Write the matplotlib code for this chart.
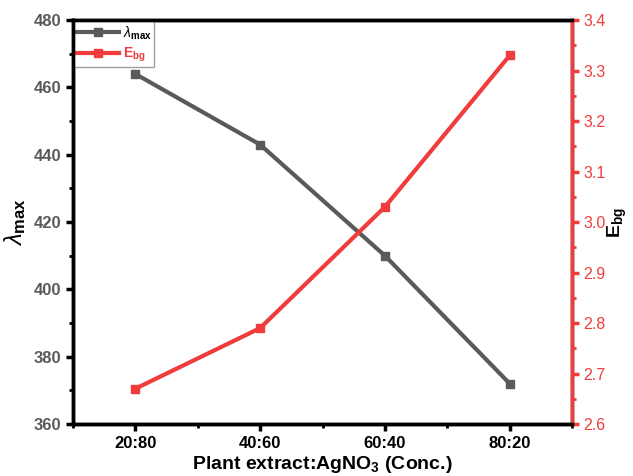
import numpy as np
import matplotlib
matplotlib.use('Agg')
from matplotlib import pyplot as plt
from matplotlib.ticker import MultipleLocator, FormatStrFormatter

plt.rcParams['font.family'] = ['Liberation Sans', 'DejaVu Sans']
plt.rcParams['mathtext.fontset'] = 'custom'
plt.rcParams['mathtext.rm'] = 'Liberation Sans'
plt.rcParams['mathtext.bf'] = 'Liberation Sans:bold'
plt.rcParams['mathtext.it'] = 'Liberation Sans:italic'

# data
ratios = ['20:80', '40:60', '60:40', '80:20']
lambda_max = [464, 443, 410, 372]
e_bg = [2.67, 2.79, 3.03, 3.33]

gray = '#5a5a5a'
red = '#f03c3c'

fig = plt.figure(figsize=(6.33, 4.76), dpi=100)
ax = fig.add_axes([0.115, 0.109, 0.789, 0.849])
ax2 = ax.twinx()

x = np.arange(1, len(ratios) + 1)
l1, = ax.plot(x, lambda_max, color=gray, lw=3, marker='s', ms=6)
l2, = ax2.plot(x, e_bg, color=red, lw=3, marker='s', ms=6)

ax.set_xlim(0.5, 4.5)
ax.set_ylim(360, 480)
ax2.set_ylim(2.6, 3.4)
ax.set_xticks(x)
ax.set_xticklabels(ratios, fontweight='bold', fontsize=12)
ax.xaxis.set_minor_locator(MultipleLocator(0.5))
ax.yaxis.set_major_locator(MultipleLocator(20))
ax.yaxis.set_minor_locator(MultipleLocator(10))
ax2.yaxis.set_major_locator(MultipleLocator(0.1))
ax2.yaxis.set_minor_locator(MultipleLocator(0.05))
ax2.yaxis.set_major_formatter(FormatStrFormatter('%.1f'))

for a in (ax, ax2):
    for s in a.spines.values():
        s.set_linewidth(2.5)
ax2.spines['right'].set_color(red)

ax.tick_params(axis='both', which='major', direction='out', length=5, width=2.5)
ax.tick_params(axis='both', which='minor', direction='out', length=3, width=2)
ax.tick_params(axis='y', labelcolor=gray, labelsize=12)
for t in ax.get_yticklabels():
    t.set_fontweight('bold')
ax2.tick_params(axis='y', which='major', direction='out', length=5, width=2.5, color=red,
                labelcolor=red, labelsize=11.5, pad=3)
ax2.tick_params(axis='y', which='minor', direction='out', length=3, width=2, color=red)

ax.set_xlabel(r'Plant extract:AgNO$_\mathbf{3}$ (Conc.)', fontweight='bold', fontsize=14, labelpad=2)
ax.set_ylabel(r'$\lambda_{\mathbf{max}}$', fontsize=17, labelpad=4)
ax2.set_ylabel(r'$\mathbf{E_{bg}}$', fontsize=14, labelpad=0)

leg = ax.legend([l1, l2], [r'$\lambda_{\mathbf{max}}$', r'$\mathbf{E_{bg}}$'], loc='upper left',
                fontsize=10, fancybox=False, edgecolor='#888888', handlelength=3,
                borderaxespad=0.1, borderpad=0.2, labelspacing=0.3, handletextpad=0.3)
leg.get_frame().set_linewidth(1)
leg.get_texts()[1].set_color(red)

fig.savefig('out.png', dpi=100)
